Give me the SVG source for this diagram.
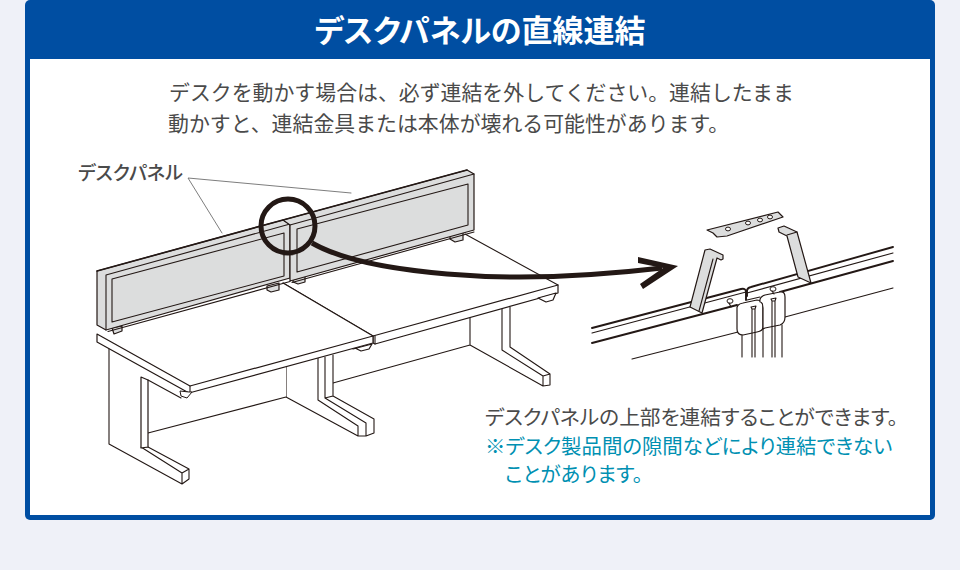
<svg xmlns="http://www.w3.org/2000/svg" width="960" height="570" viewBox="0 0 960 570">
<style>
text{font-family:"Noto Sans CJK JP","Noto Sans",sans-serif;font-feature-settings:"palt";font-kerning:normal}
.i{font-size:20.9px;fill:#4a4a4a;font-feature-settings:normal}
.t{font-size:20.7px;fill:#4a4a4a}
.c{font-size:20.4px;fill:#0090b2}
.l{fill:none;stroke:#231815;stroke-width:1.1;stroke-linejoin:round;stroke-linecap:round}
.f{fill:#fff;stroke:#231815;stroke-width:1.2;stroke-linejoin:round}
.n{fill:#fff;stroke:none}
.p{fill:#dcdddd;stroke:#231815;stroke-width:1.2;stroke-linejoin:round}
.b{fill:none;stroke:#231815;stroke-width:1.9;stroke-linecap:round}
.h{fill:#fff;stroke:#231815;stroke-width:1}
</style>
<rect width="960" height="570" fill="#eff1f8"/>
<g id="card">
<rect x="25" y="0" width="910" height="520" rx="5" fill="#004ea2"/>
<rect x="30" y="59" width="900" height="456" fill="#fff"/>
<text x="480" y="42" text-anchor="middle" font-size="31" font-weight="700" fill="#fff">デスクパネルの直線連結</text>
</g>
<g id="intro">
<text class="i" x="169" y="100">デスクを動かす場合は、必ず連結を外してください。連結したまま</text>
<text class="i" x="168" y="131">動かすと、連結金具または本体が壊れる可能性があります。</text>
</g>
<g id="desk-illustration">
<path class="n" d="M97 334 283 283 465 234 558 285 373 343 190 393Z"/>
<path class="l" d="M283 283 373 336M465 234 558 285"/>
<!-- right leg -->
<path class="n" d="M470 318 510 307V347L550 374V385L543 386 470 345Z"/>
<path class="l" d="M470 318V345L543 386 550 385V374L510 347V307M502 309V350L543 376V386M543 376 550 374M333 383 470 345"/>
<path class="f" d="M373 336 558 285V293L375 344 373 343Z"/>
<path class="l" d="M375 336V344"/>
<path class="f" d="M540 299 546 302 553 300 556 293 538 298Z"/>
<path class="f" d="M355 348 361 351 369 349 372 344 353 349Z"/>
<!-- middle leg -->
<path class="n" d="M286 365 333 355V396L374 419V433L366 436H358L286 397Z"/>
<path class="l" d="M286 365V397L358 436H366L374 433V419L333 396V355M318 358V400L358 426V436M325 357V398L366 423V436M325 398 333 396"/>
<!-- left leg and beam -->
<path class="n" d="M109 345V444L182 484 189 479V469L148 447V433L286 397V362Z"/>
<path class="l" d="M109 345V444L182 484 189 479V469L148 447H141L182 473V484M182 473 189 469M148 433 286 397"/>
<path class="f" d="M141 448V377L148 380V447Z"/>
<path class="l" d="M148 380 181 398"/>
<!-- left desk top -->
<path class="n" d="M97 334 283 283 373 336 190 386Z"/>
<path class="f" d="M97 334 190 386 373 336V343L189 393 97 342Z"/>
<path class="l" d="M190 386V393M283 283 373 336"/>
<path class="f" d="M181 396 187 398 192 392 189 392 180 391Z" style="stroke-width:1"/>
<!-- panels -->
<path class="p" d="M112 328 122 326V331L114 334Z"/>
<path class="p" d="M267 286 279 283V290L271 292 267 290Z"/>
<path class="p" d="M293 280 305 276V282L298 284 293 282Z"/>
<path class="p" d="M450 236 463 232V240L455 242 450 239Z"/>
<path class="l" d="M108 331.500 290 281.500M292 282.500 474 232"/>
<path class="p" d="M97 271 283 220 290 224V278L106 330 97 325Z"/>
<path class="l" d="M106 275 290 224M106 275V330M112 279 284 233V276L112 322Z"/>
<path class="p" d="M283 220 467 170 474 174V230L290 281V225Z"/>
<path class="l" d="M290 225 474 174M297 229 468 184V225L297 272Z"/>
<path class="b" style="stroke-width:1.6" d="M97 271 283 220M283 220 467 170"/>
<path class="l" style="stroke:#6e6e6e;stroke-width:.9" d="M222 233 188 178 351 193"/>
<text x="78" y="180" font-size="19" font-weight="500" fill="#4a4a4a">デスクパネル</text>
</g>
<g id="connectors">
<circle cx="288" cy="226" r="27" fill="none" stroke="#231815" stroke-width="5"/>
<path d="M312 243C345 262 400 270 447 274S560 280 662 268" fill="none" stroke="#231815" stroke-width="5"/>
<path d="M638 257 678 266 643 289 640 284 663 268 638 263Z" fill="#231815"/>
</g>
<g id="detail-illustration">
<path class="b" d="M592 328 741 289Q746 288 746 292V300M747 296V291Q747 288 751 287L893 247M592 343 737 305M780 292 893 261"/>
<path class="l" d="M592 333 746 292M747 293 893 253M747 300 760 297M632 359 742 331M785 317 893 288"/>
<path class="f" d="M737 310Q736 304 743 303L757 300Q763 300 763 308V327Q763 331 757 332L743 335Q737 335 737 329Z"/>
<path class="f" d="M760 302Q759 297 765 295L780 292Q785 291 785 297V317Q785 323 780 325L765 328 763 329V308Q763 302 760 302Z"/>
<path class="l" d="M742 335V357M752 309V357M755 309V357M763 329V357M772 301V357M775 301V357M782 325V357M751 307 756 306 755 309H752ZM771 299 776 298 775 301H772Z"/>
<ellipse class="h" cx="730" cy="301" rx="3" ry="2.300"/><path class="l" d="M729 303 731 307"/>
<ellipse class="h" cx="773" cy="289" rx="3" ry="2.300"/><path class="l" d="M772 291 774 294"/>
<path class="p" d="M705 250 710 249 723 255 723 259 721 260 717 258 702 313 690 307Z"/>
<path class="l" d="M713 259 699 311"/>
<path class="p" d="M778 228 784 226 797 232 811 283 798 277 787 236 779 232Z"/>
<path class="l" d="M787 235 797 232"/>
<path class="p" d="M707 230 778 212 783 217 727 236 717 237 713 233Z"/>
<ellipse class="h" cx="728" cy="229" rx="2.500" ry="1.900"/><ellipse class="h" cx="748" cy="223" rx="2.500" ry="1.900"/><ellipse class="h" cx="760" cy="220" rx="2.500" ry="1.900"/><ellipse class="h" cx="770" cy="217" rx="2.500" ry="1.900"/>
</g>
<g id="notes">
<text class="t" x="485" y="425">デスクパネルの上部を連結することができます。</text>
<text class="c" x="485" y="454">※デスク製品間の隙間などにより連結できない</text>
<text class="c" x="505" y="482">ことがあります。</text>
</g>
</svg>
